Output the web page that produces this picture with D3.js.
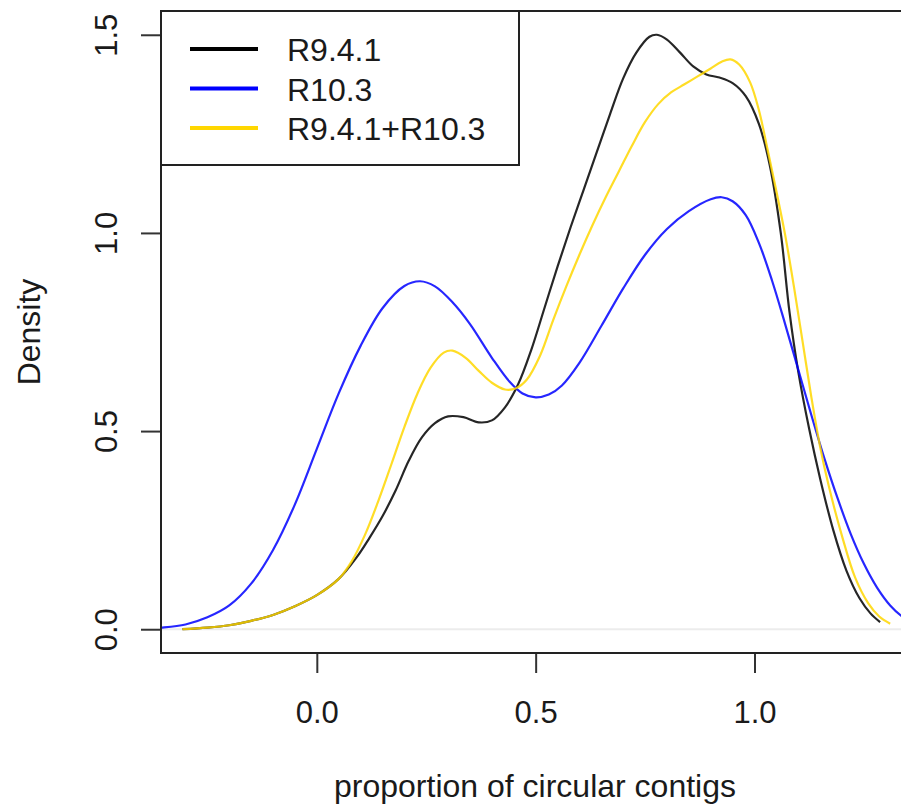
<!DOCTYPE html>
<html>
<head>
<meta charset="utf-8">
<script src="https://cdn.jsdelivr.net/npm/d3@7"></script>
<style>
  html, body { margin: 0; padding: 0; background: #fff; }
  svg { display: block; }
  text { font-family: "Liberation Sans", Arial, Helvetica, sans-serif; fill: #1a1a1a; }
</style>
</head>
<body>
<script>
// ---- data ----
const seriesNames = ["R9.4.1", "R10.3", "R9.4.1+R10.3"];
const seriesColors = ["#000000", "#0000ff", "#ffd700"];
const xTicks = [0.0, 0.5, 1.0];
const yTicks = [0.0, 0.5, 1.0, 1.5];
const xLabel = "proportion of circular contigs";
const yLabel = "Density";

// [x, density]
const r941 = [
  [-0.307, 0.0], [-0.25, 0.004], [-0.2, 0.010], [-0.15, 0.021], [-0.1, 0.036],
  [-0.05, 0.058], [0.0, 0.086], [0.05, 0.127], [0.09, 0.180], [0.12, 0.230],
  [0.15, 0.285], [0.18, 0.350], [0.21, 0.425], [0.24, 0.484], [0.27, 0.520],
  [0.30, 0.537], [0.335, 0.535], [0.37, 0.522], [0.40, 0.527], [0.43, 0.560],
  [0.46, 0.618], [0.49, 0.705], [0.52, 0.810], [0.55, 0.915], [0.58, 1.015],
  [0.61, 1.110], [0.64, 1.205], [0.67, 1.300], [0.70, 1.390], [0.73, 1.455],
  [0.76, 1.495], [0.777, 1.500], [0.80, 1.488], [0.83, 1.455], [0.86, 1.420],
  [0.89, 1.400], [0.92, 1.392], [0.95, 1.378], [0.98, 1.345], [1.01, 1.275],
  [1.035, 1.170], [1.06, 1.000], [1.08, 0.800], [1.10, 0.650], [1.125, 0.505],
  [1.15, 0.380], [1.18, 0.250], [1.21, 0.148], [1.24, 0.078], [1.265, 0.040],
  [1.287, 0.018]
];
const r103 = [
  [-0.40, 0.001], [-0.356, 0.004], [-0.30, 0.012], [-0.25, 0.030], [-0.20, 0.060],
  [-0.15, 0.115], [-0.10, 0.200], [-0.05, 0.315], [0.0, 0.455], [0.05, 0.595],
  [0.10, 0.715], [0.15, 0.810], [0.20, 0.866], [0.236, 0.878], [0.27, 0.865],
  [0.31, 0.825], [0.35, 0.770], [0.40, 0.685], [0.44, 0.625], [0.47, 0.595],
  [0.50, 0.585], [0.53, 0.592], [0.56, 0.615], [0.60, 0.672], [0.65, 0.765],
  [0.70, 0.860], [0.75, 0.945], [0.80, 1.010], [0.85, 1.055], [0.90, 1.085],
  [0.925, 1.090], [0.95, 1.080], [0.98, 1.045], [1.01, 0.975], [1.04, 0.880],
  [1.07, 0.770], [1.10, 0.655], [1.13, 0.540], [1.16, 0.430], [1.19, 0.330],
  [1.22, 0.240], [1.25, 0.165], [1.28, 0.105], [1.31, 0.060], [1.34, 0.030],
  [1.37, 0.014]
];
const r941r103 = [
  [-0.307, 0.0], [-0.25, 0.004], [-0.2, 0.010], [-0.15, 0.021], [-0.1, 0.036],
  [-0.05, 0.058], [0.0, 0.086], [0.05, 0.127], [0.08, 0.172], [0.11, 0.238],
  [0.14, 0.322], [0.17, 0.415], [0.20, 0.510], [0.23, 0.595], [0.26, 0.660],
  [0.29, 0.698], [0.31, 0.703], [0.34, 0.685], [0.37, 0.652], [0.40, 0.622],
  [0.43, 0.605], [0.455, 0.608], [0.48, 0.630], [0.51, 0.690], [0.54, 0.780],
  [0.57, 0.865], [0.60, 0.945], [0.63, 1.020], [0.66, 1.090], [0.69, 1.155],
  [0.72, 1.220], [0.75, 1.280], [0.78, 1.325], [0.81, 1.355], [0.84, 1.375],
  [0.87, 1.395], [0.90, 1.415], [0.925, 1.432], [0.945, 1.438], [0.965, 1.425],
  [0.99, 1.380], [1.01, 1.310], [1.03, 1.210], [1.05, 1.105], [1.07, 0.995],
  [1.09, 0.865], [1.11, 0.725], [1.13, 0.585], [1.15, 0.460], [1.17, 0.360],
  [1.20, 0.235], [1.23, 0.130], [1.26, 0.065], [1.285, 0.032], [1.31, 0.014]
];
const seriesData = [r941, r103, r941r103];

// ---- layout ----
const W = 901, H = 811;
const plot = { left: 161, right: 909, top: 11, bottom: 653 };

const svg = d3.select("body").append("svg").attr("width", W).attr("height", H);

const x = d3.scaleLinear().domain([-0.356, 1.353]).range([plot.left, plot.right]);
const y = d3.scaleLinear().domain([-0.06, 1.56]).range([plot.bottom, plot.top]);

svg.append("defs").append("clipPath").attr("id", "clip")
  .append("rect").attr("x", plot.left).attr("y", plot.top)
  .attr("width", plot.right - plot.left).attr("height", plot.bottom - plot.top);

// zero line
svg.append("line")
  .attr("x1", plot.left).attr("x2", plot.right)
  .attr("y1", y(0)).attr("y2", y(0))
  .attr("stroke", "#ececec").attr("stroke-width", 2);

// curves (draw order: black, blue, gold)
const line = d3.line().x(d => x(d[0])).y(d => y(d[1])).curve(d3.curveCatmullRom.alpha(0.5));
const curves = svg.append("g").attr("clip-path", "url(#clip)");
seriesData.forEach((s, i) => {
  curves.append("path")
    .attr("d", line(s))
    .attr("fill", "none")
    .attr("stroke", seriesColors[i])
    .attr("stroke-opacity", 0.85)
    .attr("stroke-width", 2.2);
});

// axes
const xAxis = svg.append("g").attr("transform", `translate(0,${plot.bottom})`)
  .call(d3.axisBottom(x).tickValues(xTicks).tickSize(20).tickPadding(0).tickFormat(d3.format(".1f")));
xAxis.select(".domain").remove();
xAxis.selectAll("line").attr("stroke", "#333").attr("stroke-width", 2);
xAxis.selectAll("text").attr("dy", null).attr("y", 70).style("font-size", "31px").attr("fill", "#1a1a1a");

const yAxis = svg.append("g").attr("transform", `translate(${plot.left},0)`)
  .call(d3.axisLeft(y).tickValues(yTicks).tickSize(20).tickFormat(d3.format(".1f")));
yAxis.select(".domain").remove();
yAxis.selectAll("line").attr("stroke", "#333").attr("stroke-width", 2);
yAxis.selectAll("text")
  .attr("x", null).attr("dy", null)
  .attr("transform", "translate(-44,0) rotate(-90)")
  .attr("text-anchor", "middle")
  .style("font-size", "31px").attr("fill", "#1a1a1a");

// frame
svg.append("rect")
  .attr("x", plot.left).attr("y", plot.top)
  .attr("width", plot.right - plot.left).attr("height", plot.bottom - plot.top)
  .attr("fill", "none").attr("stroke", "#222").attr("stroke-width", 2);

// axis titles
svg.append("text").attr("x", (plot.left + plot.right) / 2).attr("y", 797)
  .attr("text-anchor", "middle").style("font-size", "32px").text(xLabel);
svg.append("text").attr("transform", `translate(40,${(plot.top + plot.bottom) / 2}) rotate(-90)`)
  .attr("text-anchor", "middle").style("font-size", "32px").text(yLabel);

// legend
const lg = svg.append("g");
lg.append("rect").attr("x", plot.left).attr("y", plot.top).attr("width", 358).attr("height", 154)
  .attr("fill", "#fff").attr("stroke", "#222").attr("stroke-width", 2);
seriesNames.forEach((name, i) => {
  const cy = 49 + i * 39.5;
  lg.append("line").attr("x1", 190).attr("x2", 258).attr("y1", cy).attr("y2", cy)
    .attr("stroke", seriesColors[i]).attr("stroke-width", 4);
  lg.append("text").attr("x", 287).attr("y", cy + 12).style("font-size", "32px").text(name);
});
</script>
</body>
</html>
